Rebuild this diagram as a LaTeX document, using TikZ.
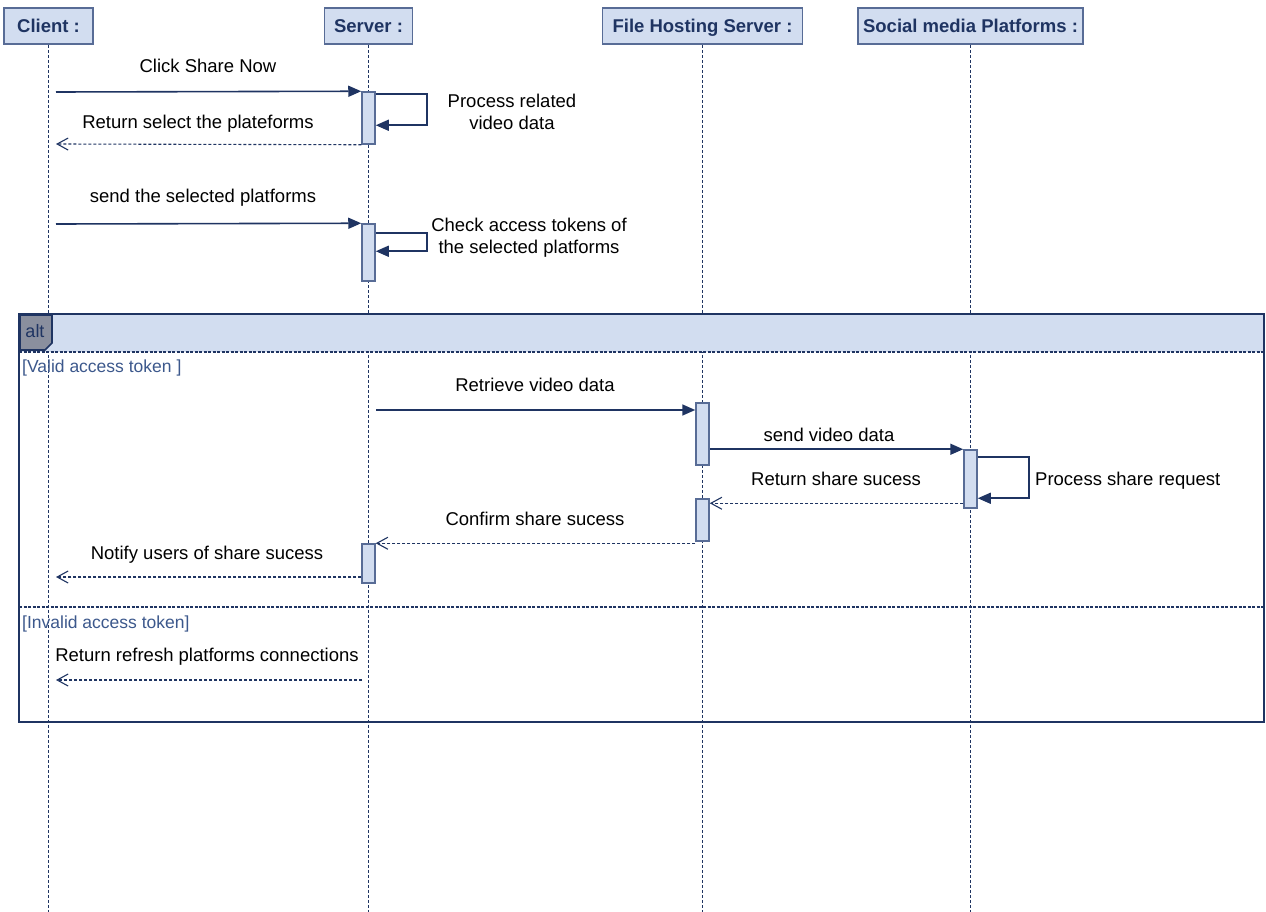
\documentclass[tikz,border=0pt]{standalone}
\usepackage{fontspec}
\setmainfont{Liberation Sans}
\usepackage{tikz}
\usetikzlibrary{positioning,calc,arrows.meta}
\definecolor{UMLNavy}{RGB}{31,52,98}
\definecolor{UMLFill}{RGB}{210,221,240}
\definecolor{UMLEdge}{RGB}{88,108,150}
\definecolor{UMLGuard}{RGB}{60,88,140}
\definecolor{UMLTag}{RGB}{138,143,158}

\begin{document}
\begin{tikzpicture}[x=1pt, y=-1pt,
    % Style for the lifeline header boxes
    headbox/.style={
        draw=UMLEdge, line width=1.6pt, fill=UMLFill,
        minimum height=36pt, inner sep=0pt,
        text height=13pt, text depth=0pt,
        font=\bfseries\fontsize{18.5}{22}\selectfont, text=UMLNavy
    },
    % Style for the dashed lifelines
    lifeline/.style={
        draw=UMLNavy, line width=1.1pt, dash pattern=on 3pt off 2pt
    },
    % Style for the activation bars
    actbar/.style={
        draw=UMLEdge, line width=1.5pt, fill=UMLFill,
        minimum width=13pt, inner sep=0pt
    },
    % Style for a synchronous message
    msg/.style={
        draw=UMLNavy, line width=1.6pt, -{Triangle[length=13pt,width=11pt]}
    },
    % Style for a reply message
    reply/.style={
        draw=UMLNavy, line width=1.1pt, dash pattern=on 3pt off 2pt,
        -{Straight Barb[length=11pt,width=12pt]}
    },
    % Style for the message labels
    msglabel/.style={
        font=\fontsize{18.5}{22}\selectfont, text=black, anchor=base, inner sep=0pt
    },
    % Style for the two-line self call labels
    notelabel/.style={
        msglabel, align=center, anchor=center
    },
    % Style for the guard conditions
    guardlabel/.style={
        font=\fontsize{17.5}{21}\selectfont, text=UMLGuard, anchor=base west, inner sep=0pt
    },
    % Style for the dashed operand separators
    framedash/.style={
        draw=UMLNavy, line width=1.4pt, dash pattern=on 3pt off 1.5pt
    }
]
    \useasboundingbox (0,0) rectangle (1266,912);

    % --- 1. Lifeline headers ---
    \node[headbox, minimum width=89pt]  (Client)   at (48.5,26)  {Client :};
    \node[headbox, minimum width=88pt]  (Server)   at (368.5,26) {Server :};
    \node[headbox, minimum width=200pt] (FileHost) at (702.5,26) {File Hosting Server :};
    \node[headbox, minimum width=225pt] (Social)   at (970.5,26) {Social media Platforms :};

    % --- 2. Lifelines ---
    \foreach \n/\x in {Client/48.5, Server/368.5, FileHost/702.5, Social/970.5} {
        \coordinate (\n-end) at (\x,912);
        \draw[lifeline] (\n.south) -- (\n-end);
    }

    % --- 3. The alt frame ---
    \fill[UMLFill] (19,314) rectangle (1264,352);
    \draw[UMLNavy, line width=1.8pt] (19,314) rectangle (1264,722);
    \draw[framedash] (19,352) -- (1264,352);
    \draw[framedash] (19,607) -- (1264,607);
    \filldraw[fill=UMLTag, draw=UMLNavy, line width=1.6pt]
        (20,315) -- (52,315) -- (52,343) -- (45,350) -- (20,350) -- cycle;
    \node[font=\fontsize{18}{21}\selectfont, text=UMLNavy, inner sep=0pt] (AltTag) at (35,331) {alt};
    \node[guardlabel] (ValidLbl)   at (22,372) {[Valid access token ]};
    \node[guardlabel] (InvalidLbl) at (22,628) {[Invalid access token]};

    % --- 4. Activation bars ---
    \node[actbar, minimum height=52pt] (ServerAct1) at (368.5,118)   {};
    \node[actbar, minimum height=57pt] (ServerAct2) at (368.5,252.5) {};
    \node[actbar, minimum height=62pt] (FileAct1)   at (702.5,434)   {};
    \node[actbar, minimum height=58pt] (SocialAct1) at (970.5,479)   {};
    \node[actbar, minimum height=42pt] (FileAct2)   at (702.5,520)   {};
    \node[actbar, minimum height=39pt] (ServerAct3) at (368.5,563.5) {};

    % --- 5. Messages ---
    \coordinate (c1) at (56,92);
    \coordinate (c2) at (56,144);
    \coordinate (c3) at (56,224);
    \coordinate (c4) at (56,577);
    \coordinate (c5) at (56,680);
    \coordinate (s1) at (376,410);
    \coordinate (s2) at (362,680);

    % Click share -> process -> return platforms
    \node[msglabel] (ClickLbl) at (208,73) {Click Share Now};
    \draw[msg] (c1) -- (ServerAct1.north west);
    \draw[msg] ([yshift=-3pt]ServerAct1.north east) -- ++(51,0) |- ([yshift=-34pt]ServerAct1.north east);
    \node[notelabel] (ProcessLbl) at (512,112) {Process related\\video data};
    \node[msglabel] (ReturnLbl) at (198,129) {Return select the plateforms};
    \draw[reply] (ServerAct1.south west) -- (c2);

    % Send platforms -> check tokens
    \node[msglabel] (SendLbl) at (203,203) {send the selected platforms};
    \draw[msg] (c3) -- (ServerAct2.north west);
    \draw[msg] ([yshift=-10pt]ServerAct2.north east) -- ++(51,0) |- ([yshift=-28pt]ServerAct2.north east);
    \node[notelabel] (CheckLbl) at (529,238) {Check access tokens of\\the selected platforms};

    % Valid token
    \node[msglabel] (RetrieveLbl) at (535,391) {Retrieve video data};
    \draw[msg] (s1) -- (s1 -| FileAct1.west);
    \node[msglabel] (SendVidLbl) at (829,441) {send video data};
    \draw[msg] (FileAct1.east |- SocialAct1.north) -- (SocialAct1.north west);
    \draw[msg] ([yshift=-8pt]SocialAct1.north east) -- ++(51,0) |- ([yshift=-49pt]SocialAct1.north east);
    \node[msglabel, anchor=base west] (ShareReqLbl) at (1035,485) {Process share request};
    \node[msglabel] (ShareLbl) at (836,485) {Return share sucess};
    \draw[reply] ([yshift=-5pt]FileAct2.north east -| SocialAct1.west) -- ([yshift=-5pt]FileAct2.north east);
    \node[msglabel] (ConfirmLbl) at (535,525) {Confirm share sucess};
    \draw[reply] (FileAct2.west |- ServerAct3.north) -- (ServerAct3.north east);
    \node[msglabel] (NotifyLbl) at (207,559) {Notify users of share sucess};
    \draw[reply] (ServerAct3.west |- c4) -- (c4);

    % Invalid token
    \node[msglabel] (RefreshLbl) at (207,661) {Return refresh platforms connections};
    \draw[reply] (s2) -- (c5);

\end{tikzpicture}
\end{document}
